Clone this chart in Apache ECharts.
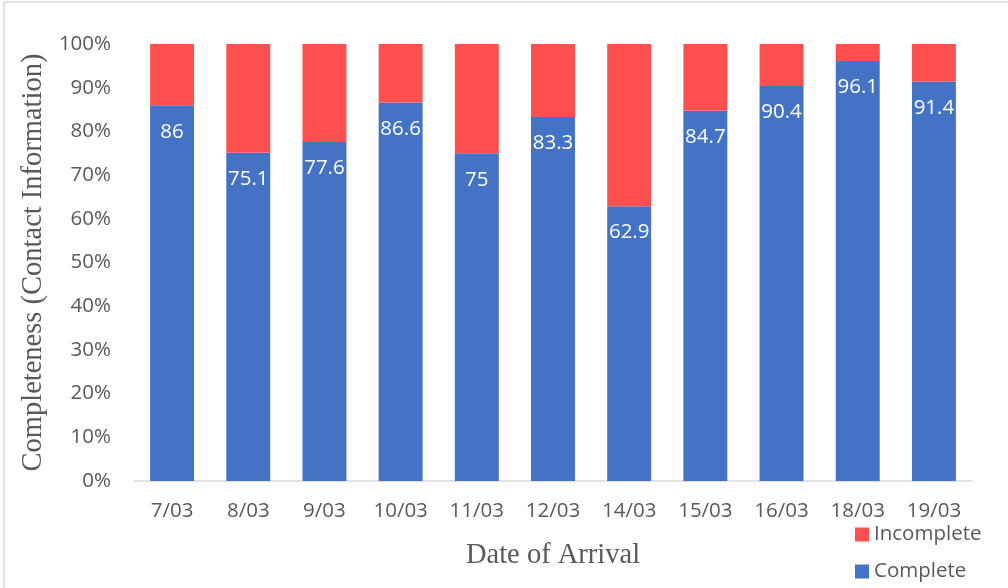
<!DOCTYPE html>
<html>
<head>
<meta charset="utf-8">
<script src="https://cdn.jsdelivr.net/npm/echarts@6/dist/echarts.min.js"></script>
<style>
html,body{margin:0;padding:0;background:#fff;}
#chart{width:1008px;height:588px;}
</style>
</head>
<body>
<div id="chart"></div>
<script>
const categories = ['7/03','8/03','9/03','10/03','11/03','12/03','14/03','15/03','16/03','18/03','19/03'];
const complete = [86, 75.1, 77.6, 86.6, 75, 83.3, 62.9, 84.7, 90.4, 96.1, 91.4];
const incomplete = [14, 24.9, 22.4, 13.4, 25, 16.7, 37.1, 15.3, 9.6, 3.9, 8.6];
const yTicks = [0, 10, 20, 30, 40, 50, 60, 70, 80, 90, 100];

const chart = echarts.init(document.getElementById('chart'));
const sans = '"Open Sans", "Noto Sans", sans-serif';
const serif = '"Liberation Serif", "DejaVu Serif", serif';
chart.setOption({
  animation: false,
  backgroundColor: '#fff',
  graphic: [{
    type: 'rect',
    shape: {x: 4, y: 2, width: 1020, height: 600},
    style: {fill: 'none', stroke: '#d9d9d9', lineWidth: 1.5},
    silent: true
  }],
  grid: {left: 134, right: 36, top: 44, bottom: 107},
  legend: {
    orient: 'vertical',
    left: 850,
    top: 519,
    itemWidth: 14,
    itemHeight: 14,
    itemGap: 16,
    icon: 'rect',
    data: ['Incomplete', 'Complete'],
    textStyle: {fontFamily: sans, fontSize: 20.5, color: '#595959'}
  },
  xAxis: {
    type: 'category',
    data: categories,
    name: 'Date of Arrival',
    nameLocation: 'middle',
    nameGap: 60,
    nameTextStyle: {fontFamily: serif, fontSize: 28.5, color: '#595959'},
    axisLine: {lineStyle: {color: '#d9d9d9', width: 1.5}},
    axisTick: {show: false},
    axisLabel: {fontFamily: sans, fontSize: 20.5, color: '#595959', margin: 20}
  },
  yAxis: {
    type: 'value',
    min: 0,
    max: 100,
    interval: 10,
    name: 'Completeness (Contact Information)',
    nameLocation: 'middle',
    nameGap: 82,
    nameTextStyle: {fontFamily: serif, fontSize: 28.5, color: '#595959'},
    axisLine: {show: false},
    axisTick: {show: false},
    splitLine: {show: false},
    axisLabel: {
      fontFamily: sans, fontSize: 20.5, color: '#595959', margin: 23,
      formatter: v => (yTicks.includes(v) ? v + '%' : '')
    }
  },
  series: [
    {
      name: 'Complete',
      type: 'bar',
      stack: 'total',
      data: complete,
      barWidth: '57.7%',
      itemStyle: {color: '#4472C4'},
      label: {
        show: true,
        position: 'insideTop',
        distance: 16,
        fontFamily: sans,
        fontSize: 20.5,
        color: '#ffffff'
      }
    },
    {
      name: 'Incomplete',
      type: 'bar',
      stack: 'total',
      data: incomplete,
      barWidth: '57.7%',
      itemStyle: {color: '#FF5050'}
    }
  ]
});
</script>
</body>
</html>
